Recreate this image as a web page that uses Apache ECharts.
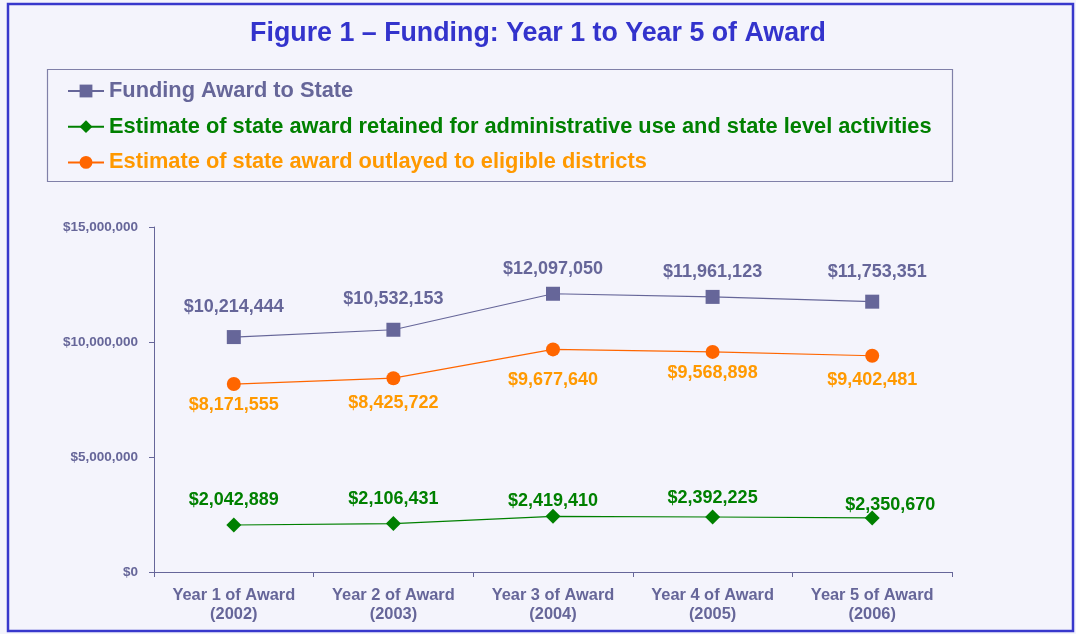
<!DOCTYPE html>
<html>
<head>
<meta charset="utf-8">
<script src="https://cdn.jsdelivr.net/npm/echarts@6/dist/echarts.min.js"></script>
<style>
html,body{margin:0;padding:0;background:#F4F4FC;}
#c{width:1076px;height:634px;}
</style>
</head>
<body>
<div id="c"></div>
<script>
// ---- data ----
const categories = ['Year 1 of Award\n(2002)', 'Year 2 of Award\n(2003)', 'Year 3 of Award\n(2004)', 'Year 4 of Award\n(2005)', 'Year 5 of Award\n(2006)'];
const seriesNames = [
  'Funding Award to State',
  'Estimate of state award retained for administrative use and state level activities',
  'Estimate of state award outlayed to eligible districts'
];
const fundingAward = [10214444, 10532153, 12097050, 11961123, 11753351];
const retainedState = [2042889, 2106431, 2419410, 2392225, 2350670];
const outlayedDistricts = [8171555, 8425722, 9677640, 9568898, 9402481];
const yTicks = [0, 5000000, 10000000, 15000000];

// ---- label placement (style only) ----
const fundingLabelOffsets = [[0, -30], [0, -31], [0, -25], [0, -25], [5, -30]];
const retainedLabelOffsets = [[0, -25], [0, -25], [0, -15], [0, -19], [18, -13]];
const outlayedLabelOffsets = [[0, 21], [0, 25], [0, 31], [0, 21], [0, 24]];

const FONT = '"Liberation Sans", Arial, sans-serif';
const money = v => '$' + Number(v).toLocaleString('en-US');

function mkData(vals, offs) {
  return vals.map((v, i) => ({ value: v, label: { offset: offs[i] } }));
}

const chart = echarts.init(document.getElementById('c'), null, { renderer: 'canvas' });

chart.setOption({
  backgroundColor: '#F4F4FC',
  animation: false,
  title: {
    text: 'Figure 1 \u2013 Funding: Year 1 to Year 5 of Award',
    left: 'center',
    top: 15,
    textStyle: { color: '#3333CC', fontFamily: FONT, fontWeight: 'bold', fontSize: 26.8 }
  },
  graphic: [
    { type: 'rect', silent: true, shape: { x: 8, y: 4, width: 1065, height: 627 },
      style: { fill: 'none', stroke: '#3838CC', lineWidth: 2.5 } },
    { type: 'rect', silent: true, shape: { x: 47.5, y: 69.5, width: 905, height: 112 },
      style: { fill: 'none', stroke: '#8080A8', lineWidth: 1.2 } }
  ],
  legend: {
    orient: 'vertical',
    left: 67,
    top: 80,
    padding: 0,
    itemWidth: 36,
    itemHeight: 16,
    itemGap: 13.7,
    textStyle: { fontFamily: FONT, fontWeight: 'bold', fontSize: 21.8, lineHeight: 22 },
    data: [
      { name: seriesNames[0], textStyle: { color: '#666699' } },
      { name: seriesNames[1], textStyle: { color: '#008000' } },
      { name: seriesNames[2], textStyle: { color: '#FF9900' } }
    ]
  },
  grid: { left: 154, right: 124, top: 227, bottom: 62, containLabel: false },
  xAxis: {
    type: 'category',
    data: categories,
    boundaryGap: true,
    axisLine: { lineStyle: { color: '#666699', width: 1 } },
    axisTick: { show: true, interval: 0, length: 5, lineStyle: { color: '#666699' } },
    axisLabel: {
      interval: 0, hideOverlap: false,
      margin: 14, color: '#666699', fontFamily: FONT, fontWeight: 'bold', fontSize: 16.4, lineHeight: 19
    },
    splitLine: { show: false }
  },
  yAxis: {
    type: 'value',
    min: yTicks[0],
    max: yTicks[yTicks.length - 1],
    interval: yTicks[1] - yTicks[0],
    axisLine: { show: true, lineStyle: { color: '#666699', width: 1 } },
    axisTick: { show: true, length: 5, lineStyle: { color: '#666699' } },
    axisLabel: {
      margin: 16, color: '#666699', fontFamily: FONT, fontWeight: 'bold', fontSize: 13.5,
      formatter: money
    },
    splitLine: { show: false }
  },
  series: [
    {
      name: seriesNames[0],
      type: 'line',
      data: mkData(fundingAward, fundingLabelOffsets),
      symbol: 'rect',
      symbolSize: 14,
      itemStyle: { color: '#666699' },
      lineStyle: { color: '#666699', width: 1.2 },
      label: { show: true, position: 'inside', formatter: p => money(p.value),
        color: '#666699', fontFamily: FONT, fontWeight: 'bold', fontSize: 18 }
    },
    {
      name: seriesNames[1],
      type: 'line',
      data: mkData(retainedState, retainedLabelOffsets),
      symbol: 'diamond',
      symbolSize: [15, 15],
      itemStyle: { color: '#008000' },
      lineStyle: { color: '#008000', width: 1.2 },
      label: { show: true, position: 'inside', formatter: p => money(p.value),
        color: '#008000', fontFamily: FONT, fontWeight: 'bold', fontSize: 18 }
    },
    {
      name: seriesNames[2],
      type: 'line',
      data: mkData(outlayedDistricts, outlayedLabelOffsets),
      symbol: 'circle',
      symbolSize: 14,
      itemStyle: { color: '#FF6600' },
      lineStyle: { color: '#FF6600', width: 1.2 },
      label: { show: true, position: 'inside', formatter: p => money(p.value),
        color: '#FF9900', fontFamily: FONT, fontWeight: 'bold', fontSize: 18 }
    }
  ]
});
</script>
</body>
</html>
